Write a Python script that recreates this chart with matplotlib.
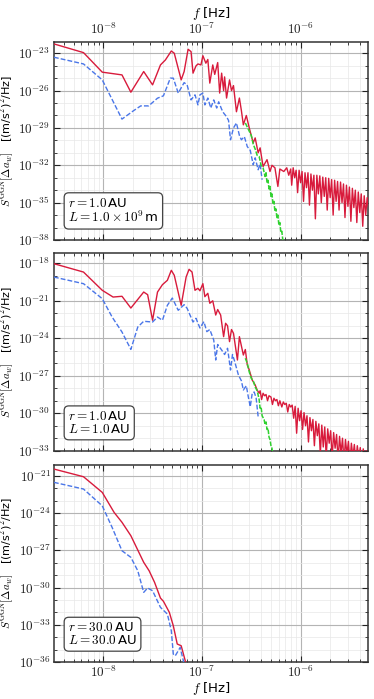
import numpy as np
import matplotlib
matplotlib.use("Agg")
import matplotlib.pyplot as plt
from matplotlib.ticker import FixedLocator, FuncFormatter, LogLocator, NullFormatter

plt.rcParams['font.family'] = ['DejaVu Sans']
plt.rcParams['mathtext.fontset'] = 'cm'

# ---- data as log10(f / Hz) and log10(S) ----
# panel 1: r = 1 AU, L = 1e9 m
red1_f = [-8.50, -8.20, -8.01, -7.81, -7.72, -7.59, -7.50, -7.42, -7.37, -7.31, -7.28,
          -7.21, -7.18, -7.14, -7.11, -7.09, -7.06, -7.04, -7.01, -6.99, -6.96, -6.94,
          -6.92, -6.89, -6.87, -6.84, -6.82, -6.80, -6.78, -6.77, -6.75, -6.72, -6.70,
          -6.68, -6.65, -6.62, -6.60, -6.58, -6.55, -6.52, -6.48, -6.46, -6.43, -6.41,
          -6.38, -6.34, -6.31, -6.29, -6.26, -6.23, -6.21, -6.17, -6.14, -6.12,
          -6.100, -6.090, -6.075, -6.060, -6.045, -6.030, -6.015, -6.000, -5.985, -5.970,
          -5.955, -5.940, -5.925, -5.910, -5.895, -5.880, -5.865, -5.850, -5.835, -5.820,
          -5.805, -5.790, -5.775, -5.760, -5.745, -5.730, -5.715, -5.700, -5.685, -5.670,
          -5.655, -5.640, -5.625, -5.610, -5.595, -5.580, -5.565, -5.550, -5.535, -5.520,
          -5.505, -5.490, -5.475, -5.460, -5.445, -5.430, -5.415, -5.400, -5.385, -5.370,
          -5.355, -5.340, -5.325, -5.310]
red1_s = [-22.25, -22.95, -24.52, -24.74, -26.13, -24.47, -25.54, -23.94, -23.54, -22.82, -23.00,
          -25.14, -24.47, -22.68, -22.87, -24.60, -24.02, -23.86, -23.94, -23.20, -23.80, -23.50,
          -25.40, -23.94, -24.70, -23.75, -26.20, -24.60, -26.00, -24.90, -26.60, -25.14, -26.00,
          -25.60, -27.70, -26.60, -27.60, -28.75, -28.00, -29.00, -30.20, -29.80, -31.00, -30.60,
          -32.10, -31.55, -32.50, -32.00, -32.20, -33.70, -32.30, -32.50, -32.20, -32.80,
          -32.30, -33.60, -32.20, -33.00, -32.40, -34.20, -32.40, -33.40, -32.50, -34.90,
          -32.60, -33.80, -32.60, -35.20, -32.70, -34.00, -32.80, -36.30, -32.80, -34.30,
          -32.85, -35.00, -32.95, -34.50, -33.00, -35.60, -33.05, -34.60, -33.15, -36.00,
          -33.20, -34.90, -33.30, -35.60, -33.35, -35.00, -33.50, -36.20, -33.60, -35.30,
          -33.75, -36.50, -33.85, -35.40, -34.00, -36.60, -34.15, -35.80, -34.30, -36.90,
          -34.45, -36.00, -34.60, -35.50]
blue1_f = [-8.50, -8.20, -8.01, -7.81, -7.69, -7.62, -7.54, -7.45, -7.39, -7.32, -7.29,
           -7.24, -7.18, -7.15, -7.11, -7.07, -7.04, -7.02, -6.99, -6.97, -6.94, -6.91,
           -6.88, -6.85, -6.83, -6.80, -6.78, -6.75, -6.73, -6.71, -6.68, -6.65, -6.62,
           -6.60, -6.57, -6.54, -6.51, -6.48, -6.46, -6.43, -6.41, -6.39]
blue1_s = [-23.32, -23.86, -25.14, -28.29, -27.60, -27.23, -27.23, -26.61, -26.42, -25.00, -25.00,
           -26.20, -25.36, -25.54, -26.75, -26.34, -27.15, -26.34, -26.20, -27.15, -26.60, -27.40,
           -26.75, -27.40, -26.90, -27.50, -27.80, -28.10, -28.40, -29.95, -29.00, -28.60, -29.60,
           -29.95, -29.70, -30.50, -30.80, -31.96, -31.40, -32.36, -31.90, -33.16]
green1_f = [-6.56, -6.53, -6.50, -6.48, -6.46, -6.44, -6.42, -6.40, -6.38, -6.36, -6.35,
            -6.34, -6.33, -6.32, -6.31, -6.30, -6.29, -6.28, -6.27, -6.26, -6.25, -6.24,
            -6.23, -6.22, -6.21, -6.20, -6.19, -6.18, -6.17]
green1_s = [-28.6, -29.1, -29.6, -30.3, -30.7, -31.2, -31.3, -32.0, -32.2, -32.9, -32.6,
            -33.4, -33.2, -33.9, -33.7, -34.5, -34.3, -35.1, -34.9, -35.7, -35.5, -36.2,
            -36.0, -36.8, -36.6, -37.4, -37.3, -38.0, -38.4]

# panel 2: r = 1 AU, L = 1 AU
red2_f = [-8.50, -8.20, -8.01, -7.90, -7.81, -7.72, -7.59, -7.55, -7.50, -7.45, -7.40,
          -7.35, -7.31, -7.28, -7.21, -7.16, -7.13, -7.10, -7.07, -7.04, -7.02, -6.99,
          -6.97, -6.94, -6.92, -6.89, -6.86, -6.84, -6.81, -6.78, -6.76, -6.74, -6.72,
          -6.70, -6.68, -6.64, -6.62, -6.58, -6.56, -6.54, -6.52, -6.49, -6.46, -6.44,
          -6.420, -6.410, -6.395, -6.380, -6.365, -6.350, -6.335, -6.320, -6.300, -6.285,
          -6.270, -6.255, -6.240, -6.225, -6.210, -6.190, -6.175, -6.160, -6.145, -6.130,
          -6.115, -6.100, -6.085, -6.070, -6.055, -6.040, -6.025, -6.010, -5.995, -5.980,
          -5.965, -5.950, -5.935, -5.920, -5.905, -5.890, -5.875, -5.860, -5.845, -5.830,
          -5.815, -5.800, -5.785, -5.770, -5.755, -5.740, -5.725, -5.710, -5.695, -5.680,
          -5.665, -5.650, -5.635, -5.620, -5.605, -5.590, -5.575, -5.560, -5.545, -5.530,
          -5.515, -5.500, -5.485, -5.470, -5.455, -5.440, -5.425, -5.410, -5.395, -5.380,
          -5.365, -5.350, -5.335, -5.320, -5.310]
red2_s = [-18.03, -18.70, -20.16, -20.70, -20.64, -21.58, -20.30, -20.51, -22.56, -20.30, -19.71,
          -19.36, -18.56, -18.96, -21.36, -19.10, -18.48, -18.70, -20.16, -20.00, -20.20, -19.63,
          -20.67, -20.40, -21.20, -21.00, -22.14, -21.70, -22.14, -23.87, -22.80, -23.00, -24.27,
          -23.30, -23.60, -25.74, -23.87, -25.34, -24.90, -26.14, -26.54, -27.34, -27.74, -28.14,
          -28.40, -28.20, -28.90, -28.40, -28.60, -28.50, -29.00, -28.60, -28.70, -29.30,
          -28.80, -29.00, -28.90, -29.40, -29.00, -29.50, -29.10, -29.30, -29.20, -29.90,
          -29.30, -29.50, -29.35, -30.40, -29.45, -31.60, -29.60, -30.60, -29.80, -31.30,
          -29.95, -31.00, -30.20, -32.30, -30.35, -31.40, -30.50, -32.60, -30.65, -31.80,
          -30.85, -33.30, -30.95, -32.70, -31.10, -33.50, -31.25, -32.40, -31.40, -33.60,
          -31.55, -32.80, -31.70, -33.80, -31.85, -33.20, -32.00, -33.90, -32.10, -33.30,
          -32.25, -34.00, -32.40, -33.50, -32.50, -34.00, -32.60, -33.60, -32.75, -34.20,
          -32.85, -33.80, -33.00, -34.20, -33.10]
blue2_f = [-8.50, -8.20, -8.01, -7.91, -7.81, -7.72, -7.65, -7.59, -7.50, -7.45, -7.40,
           -7.35, -7.30, -7.24, -7.18, -7.15, -7.09, -7.06, -7.02, -6.98, -6.95, -6.92,
           -6.88, -6.86, -6.84, -6.80, -6.77, -6.74, -6.71, -6.69, -6.67, -6.63, -6.60,
           -6.58, -6.55, -6.53, -6.51, -6.49, -6.47, -6.45, -6.43]
blue2_s = [-19.10, -19.63, -20.83, -22.30, -23.50, -24.89, -23.10, -22.64, -22.70, -22.30, -22.56,
           -21.36, -20.78, -21.76, -21.31, -21.60, -22.70, -22.40, -23.18, -22.67, -23.47, -23.30,
           -24.14, -25.74, -24.50, -24.94, -25.30, -24.80, -26.54, -25.30, -25.80, -26.94, -27.40,
           -28.14, -27.80, -28.68, -29.48, -28.40, -28.30, -28.80, -30.28]
green2_f = [-6.56, -6.54, -6.52, -6.50, -6.48, -6.46, -6.44, -6.42, -6.41, -6.40, -6.39,
            -6.37, -6.36, -6.35, -6.34, -6.33, -6.32, -6.31, -6.30, -6.29, -6.28]
green2_s = [-25.6, -26.0, -26.7, -27.2, -27.4, -27.9, -28.2, -28.9, -29.6, -29.5, -30.2,
            -30.5, -30.9, -30.7, -31.3, -31.2, -31.9, -32.1, -32.6, -32.8, -33.4]

# panel 3: r = 30 AU, L = 30 AU
red3_f = [-8.50, -8.20, -8.01, -7.89, -7.81, -7.72, -7.59, -7.535, -7.48, -7.42, -7.39,
          -7.33, -7.29, -7.25, -7.21, -7.16]
red3_s = [-20.46, -21.08, -22.34, -23.95, -24.75, -25.83, -27.97, -28.65, -29.58, -30.85, -31.11,
          -32.00, -33.08, -34.55, -34.69, -36.16]
blue3_f = [-8.50, -8.20, -8.01, -7.91, -7.81, -7.72, -7.65, -7.59, -7.55, -7.50, -7.42,
           -7.35, -7.31, -7.29, -7.27, -7.22, -7.20, -7.18]
blue3_s = [-21.53, -22.07, -23.42, -25.16, -27.04, -27.57, -28.65, -30.39, -30.04, -30.26, -31.60,
           -32.14, -33.48, -35.36, -35.50, -34.82, -35.50, -36.16]

labels = [r'$r = 1.0\,$AU' + '\n' + r'$L = 1.0\times10^9\,$m',
          r'$r = 1.0\,$AU' + '\n' + r'$L = 1.0\,$AU',
          r'$r = 30.0\,$AU' + '\n' + r'$L = 30.0\,$AU']
ylims = [(-38, -22.07), (-33, -17.15), (-36, -20.11)]
panels = [(red1_f, red1_s, blue1_f, blue1_s, green1_f, green1_s),
          (red2_f, red2_s, blue2_f, blue2_s, green2_f, green2_s),
          (red3_f, red3_s, blue3_f, blue3_s, None, None)]

RED = '#d81b3c'
BLUE = '#4a76e8'
GREEN = '#2fd12f'

fig = plt.figure(figsize=(3.74, 6.99), dpi=100)
boxes = [[0.1444, 0.6567, 0.839, 0.2837],
         [0.1444, 0.3552, 0.839, 0.2833],
         [0.1444, 0.0529, 0.839, 0.2823]]

pow_fmt = FuncFormatter(lambda v, p: r'$10^{%d}$' % int(round(np.log10(v))))

for i, (rf, rs, bf, bs, gf, gs) in enumerate(panels):
    ax = fig.add_axes(boxes[i])
    ax.plot(10**np.array(rf), 10**np.array(rs), color=RED, lw=1.0, zorder=3)
    ax.plot(10**np.array(bf), 10**np.array(bs), color=BLUE, lw=1.0, ls=(0, (3.5, 1.5)), zorder=4)
    if gf is not None:
        ax.plot(10**np.array(gf), 10**np.array(gs), color=GREEN, lw=1.1, ls=(0, (3, 1)), zorder=5)

    ax.set_xscale('log')
    ax.set_yscale('log')
    ax.set_xlim(3.17e-9, 4.8e-6)
    lo, hi = ylims[i]
    ax.set_ylim(10**lo, 10**hi)

    ax.yaxis.set_major_locator(FixedLocator([10.0**e for e in range(lo, int(hi) + 1, 3)]))
    ax.yaxis.set_minor_locator(FixedLocator([10.0**e for e in range(lo, int(hi) + 1)]))
    ax.yaxis.set_major_formatter(pow_fmt)
    ax.yaxis.set_minor_formatter(NullFormatter())
    ax.xaxis.set_major_locator(FixedLocator([1e-8, 1e-7, 1e-6]))
    ax.xaxis.set_minor_locator(LogLocator(base=10, subs=np.arange(2, 10), numticks=20))
    ax.xaxis.set_major_formatter(pow_fmt)
    ax.xaxis.set_minor_formatter(NullFormatter())

    ax.grid(which='major', color='#b4b4b4', lw=0.8)
    ax.grid(which='minor', color='#e8e8e8', lw=0.5)
    ax.set_axisbelow(True)
    ax.tick_params(which='both', direction='in', top=True, right=True,
                   labelsize=9.5, colors='#222222', pad=3)
    ax.tick_params(which='major', length=4, width=0.8)
    ax.tick_params(which='minor', length=2.2, width=0.6)
    for sp in ax.spines.values():
        sp.set_color('#333333')
        sp.set_linewidth(1.1)

    if i == 0:
        ax.tick_params(labeltop=True, labelbottom=False)
        ax.xaxis.set_label_position('top')
        ax.set_xlabel(r'$f$ [Hz]', fontsize=9.5, labelpad=4)
    elif i == 1:
        ax.tick_params(labelbottom=False)
    else:
        ax.tick_params(pad=2)
        ax.set_xlabel(r'$f$ [Hz]', fontsize=9.5, labelpad=0)

    ax.set_ylabel(r'$S^{\rm GGN}[\Delta a_w]$   [(m/s$^2$)$^2$/Hz]', fontsize=8)
    ax.yaxis.set_label_coords(-0.12, 0.5)

    ax.text(0.045, 0.075, labels[i], transform=ax.transAxes, fontsize=9.5,
            linespacing=1.0, va='bottom', ha='left', zorder=10,
            bbox=dict(boxstyle='round,pad=0.3,rounding_size=0.35', fc='white',
                      ec='#444444', lw=0.9))

fig.savefig('out.png', dpi=100)
